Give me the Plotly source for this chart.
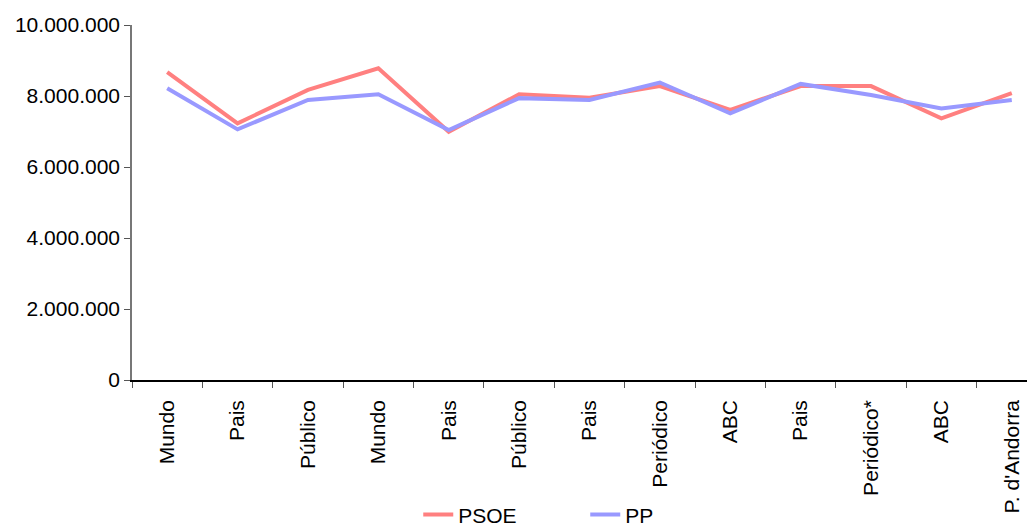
import plotly.graph_objects as go

categories = ["Mundo", "Pais", "Público", "Mundo", "Pais", "Público", "Pais",
              "Periódico", "ABC", "Pais", "Periódico*", "ABC", "P. d'Andorra"]
psoe = [8670000, 7230000, 8170000, 8780000, 6990000, 8050000, 7950000,
        8280000, 7610000, 8280000, 8280000, 7370000, 8080000]
pp = [8220000, 7060000, 7890000, 8050000, 7040000, 7940000, 7890000,
      8380000, 7510000, 8340000, 8030000, 7650000, 7890000]
y_ticks = [0, 2000000, 4000000, 6000000, 8000000, 10000000]
y_labels = ["0", "2.000.000", "4.000.000", "6.000.000", "8.000.000", "10.000.000"]

xpos = list(range(len(categories)))

fig = go.Figure()
fig.add_trace(go.Scatter(x=xpos, y=psoe, mode="lines", name="PSOE",
                         line=dict(color="#FF8080", width=4)))
fig.add_trace(go.Scatter(x=xpos, y=pp, mode="lines", name="PP",
                         line=dict(color="#9999FF", width=4)))

# page body has an 8px default margin, so the figure is sized to fit inside it
fig.update_layout(
    width=1027, height=521,
    margin=dict(l=124, r=0, t=17, b=149, autoexpand=False),
    paper_bgcolor="white", plot_bgcolor="white",
    font=dict(family="Liberation Sans, Arial, sans-serif", size=21, color="black"),
    showlegend=True,
    legend=dict(orientation="h", x=0.317, xanchor="left", y=-0.38, yanchor="middle",
                font=dict(size=21), entrywidth=122, entrywidthmode="pixels",
                bgcolor="rgba(0,0,0,0)"),
)
fig.update_xaxes(
    range=[-0.5, 12.33], tickvals=xpos, ticktext=categories, tickangle=-90,
    ticks="", showline=True, linecolor="black", linewidth=1.5,
    showgrid=False, zeroline=False, tickfont=dict(size=21), automargin=False,
    ticklabelstandoff=10,
    minor=dict(ticks="outside", tick0=0.5, dtick=1, ticklen=6,
               tickcolor="#555555", showgrid=False),
)
fig.update_yaxes(
    range=[0, 10000000], tickvals=y_ticks, ticktext=y_labels,
    ticks="outside", ticklen=6, tickcolor="#555555",
    showline=True, linecolor="#777777", linewidth=1.5,
    showgrid=False, zeroline=False, tickfont=dict(size=21), automargin=False,
)

fig.write_html("out.html")
